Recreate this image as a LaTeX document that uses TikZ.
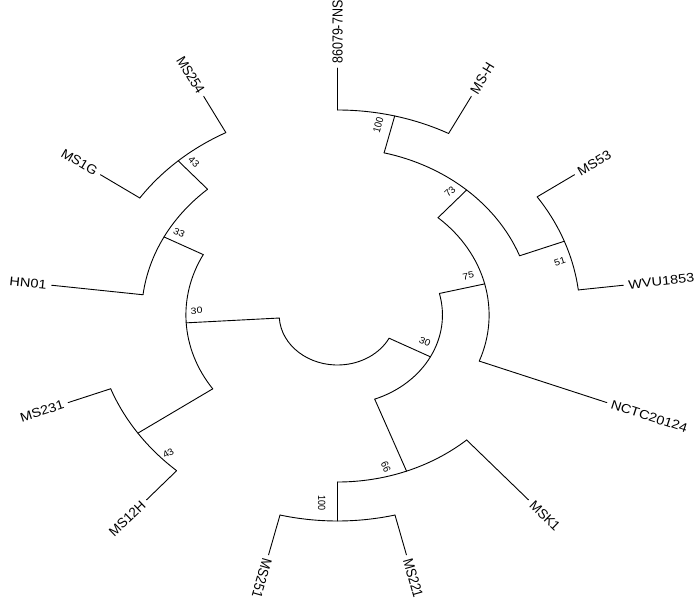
\documentclass[tikz,border=0pt]{standalone}
\usepackage{fontspec}
\setmainfont{Liberation Sans}
\newcommand\TreeEdge[4]{%
  \coordinate (#1-b) at (#2:#3);
  \coordinate (#1) at (#2:#4);
  \draw[branch] (#1-b) -- (#1);}
\begin{document}
\begin{tikzpicture}[x=1pt,y=1pt,
  branch/.style={draw=black, line width=0.9pt, line cap=round, line join=round},
  % text whose baseline runs along direction #1 of the unstretched tree,
  % drawn in the horizontally stretched (1.166) picture
  along/.style={rotate={atan2(sin(#1),1.166*cos(#1))},
    xscale={sqrt((1.166*cos(#1))^2+(sin(#1))^2)},
    yscale={1.166/sqrt((1.166*cos(#1))^2+(sin(#1))^2)}},
  tiplab/.style={font=\fontsize{12.5}{14}\selectfont, inner sep=4pt},
  rlab/.style={tiplab, anchor=west, along=#1},
  llab/.style={tiplab, anchor=east, along=#1},
  bslab/.style={font=\fontsize{9}{10}\selectfont, inner sep=0pt, along=#1}]
\useasboundingbox (-337.5,-282) rectangle (362.5,315);
\begin{scope}[xscale=1.166]
% radial branches
\TreeEdge{L}{183.462}{50}{130}
\TreeEdge{R}{332.308}{50}{90}
\TreeEdge{n33}{152.308}{130}{168}
\TreeEdge{n43l}{214.615}{130}{208}
\TreeEdge{n43u}{131.538}{168}{206}
\TreeEdge{tHN01}{173.077}{168}{247}
\TreeEdge{tMS254}{117.692}{206}{247}
\TreeEdge{tMS1G}{145.385}{206}{247}
\TreeEdge{tMS231}{200.769}{208}{247}
\TreeEdge{tMS12H}{228.462}{208}{247}
\TreeEdge{n75}{13.846}{90}{130}
\TreeEdge{n66}{290.769}{90}{167}
\TreeEdge{n73}{48.462}{130}{167}
\TreeEdge{tNCTC}{339.231}{130}{247}
\TreeEdge{n51}{20.769}{167}{208}
\TreeEdge{n100u}{76.154}{167}{205}
\TreeEdge{tWVU}{6.923}{208}{247}
\TreeEdge{tMS53}{34.615}{208}{247}
\TreeEdge{tMSH}{62.308}{205}{247}
\TreeEdge{t86079}{90}{205}{247}
\TreeEdge{n100l}{270}{167}{206}
\TreeEdge{tMSK1}{311.538}{167}{247}
\TreeEdge{tMS251}{256.154}{206}{247}
\TreeEdge{tMS221}{283.846}{206}{247}
% arcs
\draw[branch] (L-b) arc[start angle=183.462, end angle=332.308, radius=50];
\draw[branch] (n33-b) arc[start angle=152.308, end angle=214.615, radius=130];
\draw[branch] (n66-b) arc[start angle=290.769, end angle=373.846, radius=90];
\draw[branch] (tNCTC-b) arc[start angle=339.231, end angle=408.462, radius=130];
\draw[branch] (n51-b) arc[start angle=20.769, end angle=76.154, radius=167];
\draw[branch] (tWVU-b) arc[start angle=6.923, end angle=34.615, radius=208];
\draw[branch] (tMSH-b) arc[start angle=62.308, end angle=90, radius=205];
\draw[branch] (n100l-b) arc[start angle=270, end angle=311.538, radius=167];
\draw[branch] (tMS251-b) arc[start angle=256.154, end angle=283.846, radius=206];
\draw[branch] (n43u-b) arc[start angle=131.538, end angle=173.077, radius=168];
\draw[branch] (tMS254-b) arc[start angle=117.692, end angle=145.385, radius=206];
\draw[branch] (tMS231-b) arc[start angle=200.769, end angle=228.462, radius=208];
% tip labels
\node[rlab=6.923] (lWVU) at (tWVU) {WVU1853};
\node[rlab=34.615] (lMS53) at (tMS53) {MS53};
\node[rlab=62.308] (lMSH) at (tMSH) {MS-H};
\node[rlab=90] (l86079) at (t86079) {86079-7NS};
\node[llab=-62.308] (lMS254) at (tMS254) {MS254};
\node[llab=-34.615] (lMS1G) at (tMS1G) {MS1G};
\node[llab=-6.923] (lHN01) at (tHN01) {HN01};
\node[llab=20.769] (lMS231) at (tMS231) {MS231};
\node[llab=48.462] (lMS12H) at (tMS12H) {MS12H};
\node[rlab=-103.846] (lMS251) at (tMS251) {MS251};
\node[rlab=-76.154] (lMS221) at (tMS221) {MS221};
\node[rlab=-48.462] (lMSK1) at (tMSK1) {MSK1};
\node[rlab=-20.769] (lNCTC) at (tNCTC) {NCTC20124};
% bootstrap values
\node[bslab=3.462] (bL) at (177.96:120.9) {30};
\node[bslab=-27.692] (b33) at (148.8:158.7) {33};
\node[bslab=-48.462] (b43u) at (128.8:196.6) {43};
\node[bslab=34.615] (b43l) at (223.6:200.5) {43};
\node[bslab=-27.692] (bR) at (340.4:79.6) {30};
\node[bslab=13.846] (b75) at (19.2:118.8) {75};
\node[bslab=48.462] (b73) at (52.0:156.6) {73};
\node[bslab=76.154] (b100u) at (79.6:193.2) {100};
\node[bslab=20.769] (b51) at (15.6:198.1) {51};
\node[bslab=-69.231] (b66) at (285.3:157.3) {66};
\node[bslab=-90] (b100l) at (265.9:188.8) {100};
\end{scope}
\end{tikzpicture}
\end{document}
